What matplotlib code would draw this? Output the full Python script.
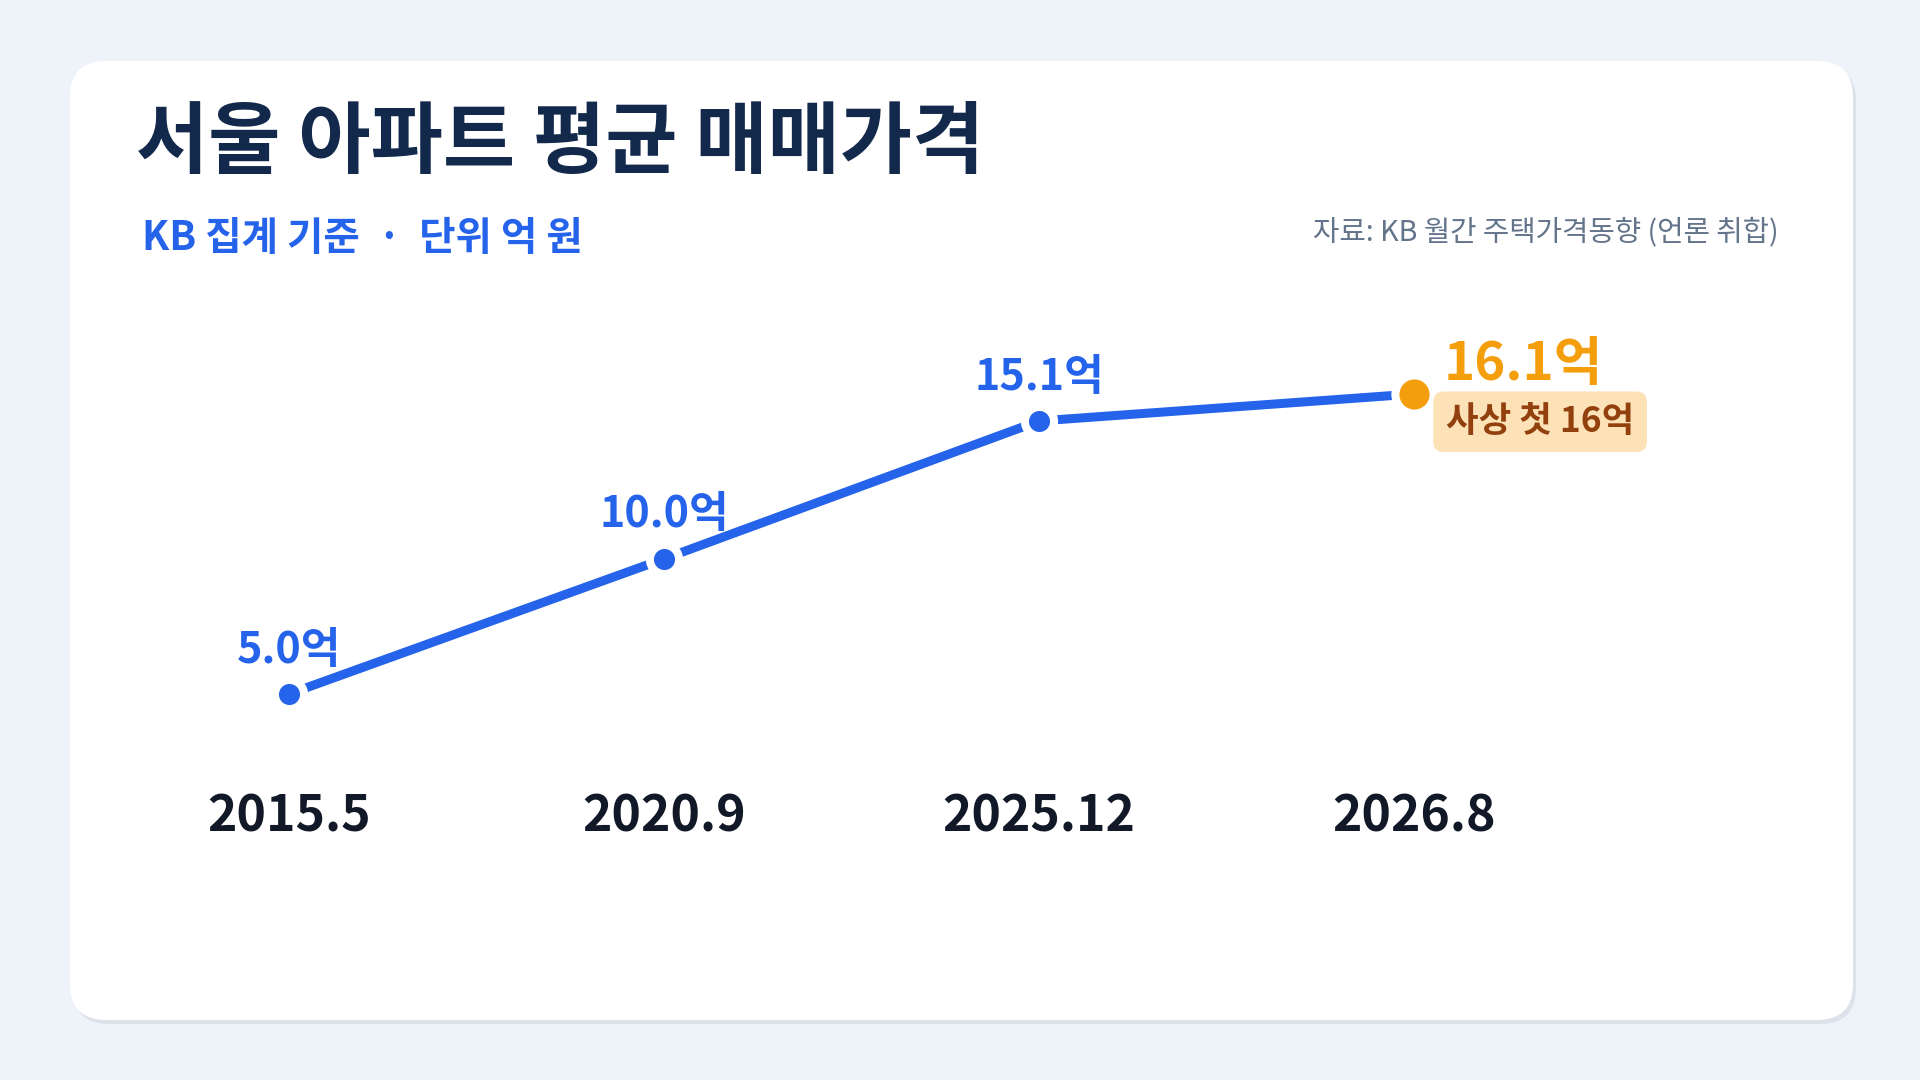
import matplotlib
matplotlib.use("Agg")
import matplotlib.pyplot as plt
from matplotlib.patches import FancyBboxPatch

plt.rcParams['font.family'] = ['Noto Sans CJK KR', 'DejaVu Sans']

# ---------------------------------------------------------------------------
# data
# ---------------------------------------------------------------------------
periods = ["2015.5", "2020.9", "2025.12", "2026.8"]
prices = [5.0, 10.0, 15.1, 16.1]          # 억 원
value_labels = ["5.0억", "10.0억", "15.1억", "16.1억"]
callout = "사상 첫 16억"

title = "서울 아파트 평균 매매가격"
subtitle = "KB 집계 기준  ·  단위 억 원"
source = "자료: KB 월간 주택가격동향 (언론 취합)"

BG = "#EEF2F9"
NAVY = "#13294B"
BLUE = "#2563EB"
ORANGE = "#F59E0B"
GRAY = "#64748B"
INK = "#111827"

W, H = 1920, 1080
fig = plt.figure(figsize=(W / 100, H / 100), dpi=100, facecolor=BG)

# background layer in pixel coords
bg = fig.add_axes([0, 0, 1, 1], zorder=0)
bg.set_xlim(0, W)
bg.set_ylim(H, 0)
bg.axis("off")
shadow = FancyBboxPatch((73, 65), 1783, 959, boxstyle="round,pad=0,rounding_size=36",
                        facecolor="#DCE1EA", edgecolor="none")
card = FancyBboxPatch((70, 61), 1783, 959, boxstyle="round,pad=0,rounding_size=36",
                      facecolor="white", edgecolor="none")
bg.add_patch(shadow)
bg.add_patch(card)

bg.text(136, 144, title, fontsize=56.5, fontweight="bold", color=NAVY,
        ha="left", va="center")
bg.text(142, 239, subtitle, fontsize=28.5, fontweight="bold", color=BLUE,
        ha="left", va="center")
bg.text(1779, 232, source, fontsize=20.7, color=GRAY, ha="right", va="center")

# ---------------------------------------------------------------------------
# chart axes: category spacing 375px, 27.03px per 억
# ---------------------------------------------------------------------------
x0_px, step_px = 289, 375
ax_left = x0_px - step_px * 0.5
ax_right = x0_px + step_px * 3.5
ax_top, ax_bot = 300, 750
ppu = 27.03
ymax = 5.0 + (694 - ax_top) / ppu
ymin = 5.0 - (ax_bot - 694) / ppu

ax = fig.add_axes([ax_left / W, 1 - ax_bot / H, (ax_right - ax_left) / W,
                   (ax_bot - ax_top) / H], zorder=1)
ax.set_facecolor("none")
ax.set_xlim(-0.5, 3.5)
ax.set_ylim(ymin, ymax)
for s in ax.spines.values():
    s.set_visible(False)
ax.set_yticks([])

xs = list(range(len(periods)))
ax.plot(xs, prices, color=BLUE, lw=6.5, solid_capstyle="butt", zorder=2)
ax.plot(xs[:-1], prices[:-1], "o", ms=21, mfc=BLUE, mec="white", mew=5.8, zorder=3)
ax.plot(xs[-1:], prices[-1:], "o", ms=27.5, mfc=ORANGE, mec="white", mew=5.8, zorder=3)

for x, v, lab in zip(xs[:-1], prices[:-1], value_labels[:-1]):
    ax.annotate(lab, (x, v), xytext=(0, 32), textcoords="offset points",
                ha="center", va="center", fontsize=31, fontweight="bold", color=BLUE)

ax.annotate(value_labels[-1], (xs[-1], prices[-1]), xytext=(21, 21),
            textcoords="offset points", ha="left", va="center",
            fontsize=38, fontweight="bold", color=ORANGE)
ax.annotate(callout, (xs[-1], prices[-1]), xytext=(23, -20),
            textcoords="offset points", ha="left", va="center",
            fontsize=25.5, fontweight="bold", color="#92400E",
            bbox=dict(boxstyle="round,pad=0.36,rounding_size=0.3",
                      facecolor="#FDE2B8", edgecolor="none"))

ax.set_xticks(xs)
ax.set_xticklabels(periods, fontsize=36, fontweight="bold", color=INK)
ax.tick_params(axis="x", length=0, pad=30)

fig.savefig("out.png", dpi=100, facecolor=BG)
